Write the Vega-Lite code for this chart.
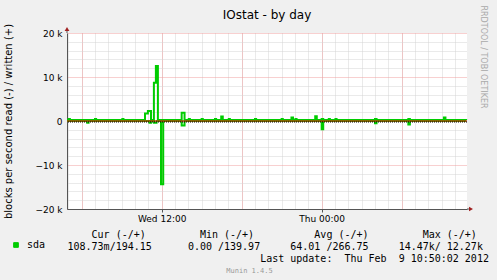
{
  "$schema": "https://vega.github.io/schema/vega-lite/v6.json",
  "width": 400,
  "height": 176,
  "autosize": {"type": "none"},
  "padding": {"left": 67, "top": 33, "right": 30, "bottom": 71},
  "background": "#f0f0f0",
  "title": {"text": "IOstat - by day", "frame": "group", "anchor": "middle", "font": "DejaVu Sans", "fontSize": 12, "fontWeight": "normal", "color": "#000000", "baseline": "alphabetic", "offset": 14, "dy": 40},
  "config": {
    "view": {"stroke": null, "fill": "#ffffff"},
    "axis": {"labelFont": "DejaVu Sans", "labelFontSize": 9, "labelColor": "#000000", "titleFont": "DejaVu Sans", "titleFontWeight": "normal", "titleColor": "#000000"}
  },
  "data": {"values": [
    {"t": "2012-02-08T04:54:00Z", "written": 230, "read": 0, "series": "sda"},
    {"t": "2012-02-08T05:02:00Z", "written": 450, "read": 0, "series": "sda"},
    {"t": "2012-02-08T05:07:00Z", "written": 230, "read": 0, "series": "sda"},
    {"t": "2012-02-08T06:25:00Z", "written": 230, "read": -400, "series": "sda"},
    {"t": "2012-02-08T06:31:00Z", "written": 230, "read": 0, "series": "sda"},
    {"t": "2012-02-08T07:00:00Z", "written": 450, "read": 0, "series": "sda"},
    {"t": "2012-02-08T07:05:00Z", "written": 230, "read": 0, "series": "sda"},
    {"t": "2012-02-08T09:03:00Z", "written": 450, "read": 0, "series": "sda"},
    {"t": "2012-02-08T09:08:00Z", "written": 230, "read": 0, "series": "sda"},
    {"t": "2012-02-08T10:45:00Z", "written": 1700, "read": 0, "series": "sda"},
    {"t": "2012-02-08T10:58:00Z", "written": 2300, "read": 0, "series": "sda"},
    {"t": "2012-02-08T11:05:00Z", "written": 2300, "read": -400, "series": "sda"},
    {"t": "2012-02-08T11:12:00Z", "written": 230, "read": 0, "series": "sda"},
    {"t": "2012-02-08T11:25:00Z", "written": 8700, "read": -400, "series": "sda"},
    {"t": "2012-02-08T11:34:00Z", "written": 12500, "read": -400, "series": "sda"},
    {"t": "2012-02-08T11:37:00Z", "written": 12500, "read": 0, "series": "sda"},
    {"t": "2012-02-08T11:43:00Z", "written": 230, "read": 0, "series": "sda"},
    {"t": "2012-02-08T11:57:00Z", "written": 230, "read": -14400, "series": "sda"},
    {"t": "2012-02-08T12:07:00Z", "written": 230, "read": 0, "series": "sda"},
    {"t": "2012-02-08T13:30:00Z", "written": 1900, "read": -1000, "series": "sda"},
    {"t": "2012-02-08T13:43:00Z", "written": 230, "read": 0, "series": "sda"},
    {"t": "2012-02-08T14:02:00Z", "written": 450, "read": 0, "series": "sda"},
    {"t": "2012-02-08T14:07:00Z", "written": 230, "read": 0, "series": "sda"},
    {"t": "2012-02-08T15:00:00Z", "written": 450, "read": 0, "series": "sda"},
    {"t": "2012-02-08T15:05:00Z", "written": 230, "read": 0, "series": "sda"},
    {"t": "2012-02-08T16:00:00Z", "written": 450, "read": 0, "series": "sda"},
    {"t": "2012-02-08T16:05:00Z", "written": 230, "read": 0, "series": "sda"},
    {"t": "2012-02-08T16:28:00Z", "written": 1000, "read": 0, "series": "sda"},
    {"t": "2012-02-08T16:35:00Z", "written": 230, "read": 0, "series": "sda"},
    {"t": "2012-02-08T17:02:00Z", "written": 450, "read": 0, "series": "sda"},
    {"t": "2012-02-08T17:07:00Z", "written": 230, "read": 0, "series": "sda"},
    {"t": "2012-02-08T19:00:00Z", "written": 450, "read": 0, "series": "sda"},
    {"t": "2012-02-08T19:05:00Z", "written": 230, "read": 0, "series": "sda"},
    {"t": "2012-02-08T21:00:00Z", "written": 450, "read": 0, "series": "sda"},
    {"t": "2012-02-08T21:05:00Z", "written": 230, "read": 0, "series": "sda"},
    {"t": "2012-02-08T21:44:00Z", "written": 800, "read": 0, "series": "sda"},
    {"t": "2012-02-08T21:51:00Z", "written": 230, "read": 0, "series": "sda"},
    {"t": "2012-02-08T22:02:00Z", "written": 450, "read": 0, "series": "sda"},
    {"t": "2012-02-08T22:07:00Z", "written": 230, "read": 0, "series": "sda"},
    {"t": "2012-02-08T23:31:00Z", "written": 1100, "read": 0, "series": "sda"},
    {"t": "2012-02-08T23:38:00Z", "written": 230, "read": 0, "series": "sda"},
    {"t": "2012-02-09T00:00:00Z", "written": 450, "read": -1900, "series": "sda"},
    {"t": "2012-02-09T00:07:00Z", "written": 230, "read": 0, "series": "sda"},
    {"t": "2012-02-09T00:32:00Z", "written": 450, "read": 0, "series": "sda"},
    {"t": "2012-02-09T00:37:00Z", "written": 230, "read": 0, "series": "sda"},
    {"t": "2012-02-09T01:02:00Z", "written": 450, "read": 0, "series": "sda"},
    {"t": "2012-02-09T01:07:00Z", "written": 230, "read": 0, "series": "sda"},
    {"t": "2012-02-09T04:00:00Z", "written": 450, "read": -500, "series": "sda"},
    {"t": "2012-02-09T04:07:00Z", "written": 230, "read": 0, "series": "sda"},
    {"t": "2012-02-09T06:30:00Z", "written": 450, "read": -800, "series": "sda"},
    {"t": "2012-02-09T06:37:00Z", "written": 230, "read": 0, "series": "sda"},
    {"t": "2012-02-09T09:10:00Z", "written": 800, "read": 0, "series": "sda"},
    {"t": "2012-02-09T09:17:00Z", "written": 230, "read": 0, "series": "sda"},
    {"t": "2012-02-09T10:50:00Z", "written": 194, "read": 0, "series": "sda"}
  ]},
  "resolve": {"axis": {"x": "independent", "y": "independent"}},
  "layer": [
    {
      "mark": {"type": "line", "interpolate": "step-after", "strokeWidth": 2},
      "encoding": {
        "x": {"field": "t", "type": "temporal",
          "scale": {"type": "utc", "nice": false, "domain": [1328676840000, 1328784840000]},
          "axis": {"orient": "bottom", "values": [1328677200000, 1328680800000, 1328684400000, 1328688000000, 1328691600000, 1328695200000, 1328698800000, 1328702400000, 1328706000000, 1328709600000, 1328713200000, 1328716800000, 1328720400000, 1328724000000, 1328727600000, 1328731200000, 1328734800000, 1328738400000, 1328742000000, 1328745600000, 1328749200000, 1328752800000, 1328756400000, 1328760000000, 1328763600000, 1328767200000, 1328770800000, 1328774400000, 1328778000000, 1328781600000], "grid": true, "gridColor": "#d4d4d4", "gridDash": [1, 1], "labels": false, "ticks": false, "domain": false, "title": null}},
        "y": {"field": "written", "type": "quantitative",
          "scale": {"domain": [-20000, 20000], "nice": false, "zero": false},
          "axis": {"orient": "left", "values": [-18000, -16000, -14000, -12000, -8000, -6000, -4000, -2000, 2000, 4000, 6000, 8000, 12000, 14000, 16000, 18000], "grid": true, "gridColor": "#d4d4d4", "gridDash": [1, 1], "labels": false, "ticks": false, "domain": false, "title": null}},
        "color": {"field": "series", "type": "nominal", "scale": {"domain": ["sda"], "range": ["#00cc00"]},
          "legend": {"orient": "none", "legendX": -56, "legendY": 207, "title": null, "symbolType": "square", "symbolSize": 22, "labelFont": "DejaVu Sans Mono", "labelFontSize": 10, "labelColor": "#000000", "labelOffset": 6, "padding": 0,
            "encode": {"symbols": {"update": {"fill": {"value": "#00cc00"}, "stroke": {"value": "#000000"}, "strokeWidth": {"value": 1}, "opacity": {"value": 1}}}}}}
      }
    },
    {
      "mark": {"type": "line", "interpolate": "step-after", "strokeWidth": 2},
      "encoding": {
        "x": {"field": "t", "type": "temporal",
          "axis": {"orient": "bottom", "values": [1328680800000, 1328702400000, 1328724000000, 1328745600000, 1328767200000], "grid": true, "gridColor": "#f0a0a0", "gridDash": [1, 1], "labels": false, "ticks": false, "domain": false, "title": null}},
        "y": {"field": "read", "type": "quantitative",
          "axis": {"orient": "left", "values": [-20000, -10000, 0, 10000, 20000], "grid": true, "gridColor": "#f0a0a0", "gridDash": [1, 1], "labelExpr": "datum.value == 0 ? '0' : format(datum.value / 1000, 'd') + ' k'", "labelPadding": 5, "ticks": false, "domain": true, "domainColor": "#555555", "title": "blocks per second read (-) / written (+)", "titleFontSize": 10, "titleAngle": -90, "titleX": -58.5, "titleY": 88, "titleAlign": "center", "titleBaseline": "middle"}},
        "color": {"field": "series", "type": "nominal"}
      }
    },
    {
      "mark": {"type": "point", "opacity": 0},
      "encoding": {
        "x": {"field": "t", "type": "temporal",
          "axis": {"orient": "bottom", "values": [1328702400000, 1328745600000], "labelExpr": "utcFormat(datum.value, '%a %H:%M')", "labelPadding": 2, "ticks": true, "tickSize": 3, "tickColor": "#555555", "domain": true, "domainColor": "#555555", "grid": false,
            "title": ["\u200b\u00a0\u00a0\u00a0\u00a0Cur (-/+)\u00a0\u00a0\u00a0\u00a0\u00a0\u00a0\u00a0\u00a0\u00a0Min (-/+)\u00a0\u00a0\u00a0\u00a0\u00a0\u00a0\u00a0\u00a0\u00a0\u00a0Avg (-/+)\u00a0\u00a0\u00a0\u00a0\u00a0\u00a0\u00a0\u00a0\u00a0Max (-/+)", "108.73m/194.15\u00a0\u00a0\u00a0\u00a0\u00a0\u00a00.00 /139.97\u00a0\u00a0\u00a0\u00a0\u00a064.01 /266.75\u00a0\u00a0\u00a0\u00a0\u00a014.47k/ 12.27k", "\u200b\u00a0\u00a0\u00a0\u00a0\u00a0\u00a0\u00a0\u00a0\u00a0\u00a0\u00a0\u00a0\u00a0\u00a0\u00a0\u00a0\u00a0\u00a0\u00a0\u00a0\u00a0\u00a0\u00a0\u00a0\u00a0\u00a0\u00a0\u00a0\u00a0\u00a0\u00a0\u00a0Last update:\u00a0\u00a0Thu Feb\u00a0\u00a09 10:50:02 2012"],
            "titleFont": "DejaVu Sans Mono", "titleFontSize": 10, "titleX": 0, "titleY": 28, "titleAlign": "left", "titleBaseline": "alphabetic", "titleLineHeight": 12}},
        "y": {"field": "written", "type": "quantitative",
          "axis": {"orient": "right", "labels": false, "ticks": false, "domain": false, "grid": false, "title": "RRDTOOL / TOBI OETIKER", "titleFont": "DejaVu Sans", "titleFontSize": 8, "titleColor": "#aaaaaa", "titleAngle": 90, "titleX": 15.5, "titleY": 23.5, "titleAlign": "center", "titleBaseline": "middle"}}
      }
    },
    {
      "mark": {"type": "point", "opacity": 0},
      "encoding": {
        "x": {"field": "t", "type": "temporal",
          "axis": {"orient": "bottom", "labels": false, "ticks": false, "domain": false, "grid": false, "title": "Munin 1.4.5", "titleFont": "DejaVu Sans Mono", "titleFontSize": 7, "titleColor": "#999999", "titleX": 182, "titleY": 63, "titleAlign": "center", "titleBaseline": "alphabetic"}},
        "y": {"field": "written", "type": "quantitative", "axis": null}
      }
    },
    {
      "data": {"values": [{}]},
      "mark": {"type": "rule", "color": "#ff0000", "strokeWidth": 1},
      "encoding": {"y": {"datum": 0, "axis": null}}
    },
    {
      "data": {"values": [{}]},
      "mark": {"type": "rule", "color": "#000000", "strokeWidth": 1, "strokeDash": [1, 1]},
      "encoding": {"y": {"datum": -230, "axis": null}}
    },
    {
      "data": {"values": [{}]},
      "mark": {"type": "rule", "color": "#555555", "strokeWidth": 1},
      "encoding": {
        "x": {"datum": 1328676840000, "type": "temporal", "axis": null},
        "y": {"datum": 20000, "axis": null},
        "y2": {"datum": 20700}
      }
    },
    {
      "data": {"values": [{}]},
      "mark": {"type": "rule", "color": "#555555", "strokeWidth": 1},
      "encoding": {
        "x": {"datum": 1328784840000, "type": "temporal", "axis": null},
        "x2": {"datum": 1328785680000},
        "y": {"datum": -20000, "axis": null}
      }
    },
    {
      "data": {"values": [{}]},
      "mark": {"type": "point", "shape": "triangle-up", "filled": true, "color": "#a02020", "size": 22, "opacity": 1},
      "encoding": {
        "x": {"datum": 1328676840000, "type": "temporal", "axis": null},
        "y": {"datum": 20900, "axis": null}
      }
    },
    {
      "data": {"values": [{}]},
      "mark": {"type": "point", "shape": "triangle-right", "filled": true, "color": "#a02020", "size": 22, "opacity": 1},
      "encoding": {
        "x": {"datum": 1328785920000, "type": "temporal", "axis": null},
        "y": {"datum": -20000, "axis": null}
      }
    }
  ]
}
